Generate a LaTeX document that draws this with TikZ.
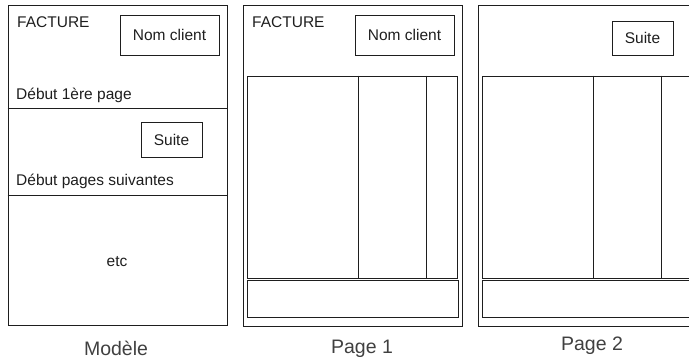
\documentclass[tikz,border=0pt]{standalone}
\usepackage{fontspec}
\setmainfont{Liberation Sans}
\usetikzlibrary{positioning}
\definecolor{trait}{RGB}{30,30,30}

\begin{document}
\begin{tikzpicture}[x=1pt, y=-1pt,
  cadre/.style={rectangle, draw=trait, line width=1pt, inner sep=0pt},
  boite/.style={rectangle, draw=trait, line width=1pt, inner sep=0pt,
                font=\fontsize{15.5}{18}\selectfont, text=trait},
  texte/.style={inner sep=0pt, font=\fontsize{15.5}{18}\selectfont, text=trait},
  titre/.style={inner sep=0pt, font=\fontsize{19.5}{22}\selectfont, text=trait!85}
]
\useasboundingbox (0,0) rectangle (689,359);
\clip (0,0) rectangle (689,359);

% Modele
\node[cadre, minimum width=219pt, minimum height=320pt] (mod) at (117.5,165) {};
\node[texte, anchor=base west] (modfac) at (17,27) {FACTURE};
\node[boite, minimum width=99pt, minimum height=40pt] (modnom) at (169.5,35) {Nom client};
\node[texte, anchor=base west] (mod1) at (16,99) {Début 1ère page};
\draw[trait, line width=1pt] (mod.west |- 0,108) coordinate (sep1) -- (mod.east |- sep1);
\node[boite, minimum width=61pt, minimum height=35pt] (modsuite) at (171.5,139.5) {Suite};
\node[texte, anchor=base west] (mod2) at (16,185) {Début pages suivantes};
\draw[trait, line width=1pt] (mod.west |- 0,195) coordinate (sep2) -- (mod.east |- sep2);
\node[texte] (modetc) at (117,262) {etc};
\node[titre, anchor=base] (modlbl) at (116,355) {Modèle};

% Page 1
\node[cadre, minimum width=219pt, minimum height=321pt] (p1) at (352.5,165.5) {};
\node[texte, anchor=base west] (p1fac) at (252,27) {FACTURE};
\node[boite, minimum width=99pt, minimum height=40pt] (p1nom) at (404.5,35) {Nom client};
\node[cadre, minimum width=210pt, minimum height=202pt] (p1tab) at (352,177) {};
\draw[trait, line width=1pt] (p1tab.north -| 358,0) -- (p1tab.south -| 358,0);
\draw[trait, line width=1pt] (p1tab.north -| 426,0) -- (p1tab.south -| 426,0);
\node[cadre, minimum width=211pt, minimum height=37pt] (p1pied) at (352.5,298.5) {};
\node[titre, anchor=base] (p1lbl) at (362,353) {Page 1};

% Page 2
\node[cadre, minimum width=219pt, minimum height=321pt] (p2) at (587.5,165.5) {};
\node[boite, minimum width=61pt, minimum height=34pt] (p2suite) at (642.5,38) {Suite};
\node[cadre, minimum width=210pt, minimum height=202pt] (p2tab) at (587,177) {};
\draw[trait, line width=1pt] (p2tab.north -| 593,0) -- (p2tab.south -| 593,0);
\draw[trait, line width=1pt] (p2tab.north -| 661,0) -- (p2tab.south -| 661,0);
\node[cadre, minimum width=211pt, minimum height=37pt] (p2pied) at (587.5,298.5) {};
\node[titre, anchor=base] (p2lbl) at (592,350) {Page 2};
\end{tikzpicture}
\end{document}
